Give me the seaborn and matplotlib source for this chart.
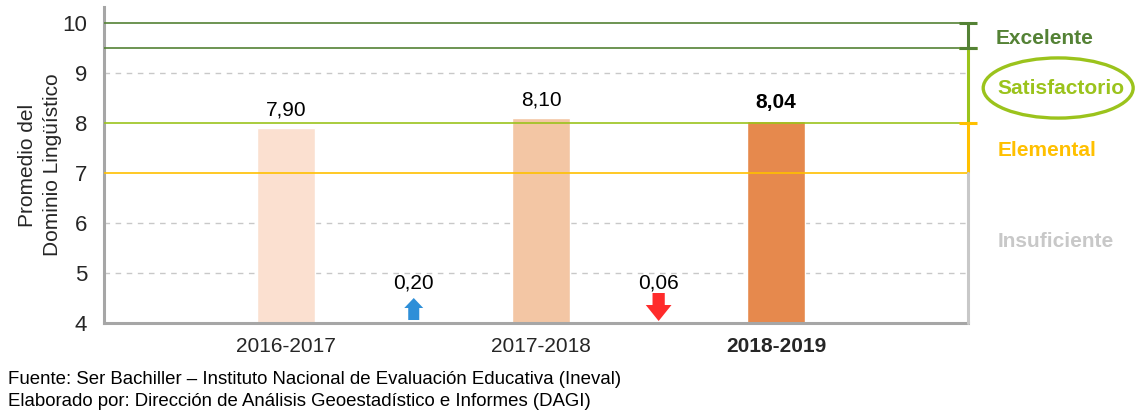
import matplotlib
matplotlib.use("Agg")
import matplotlib.pyplot as plt
import seaborn as sns
import pandas as pd
from matplotlib.patches import Ellipse, FancyArrow

sns.set_theme(style="white")
plt.rcParams['font.family'] = ['Liberation Sans', 'DejaVu Sans']

periods = ["2016-2017", "2017-2018", "2018-2019"]
values = [7.90, 8.10, 8.04]
value_labels = ["7,90", "8,10", "8,04"]
bar_colors = ["#FBE0D0", "#F3C6A4", "#E6894D"]
changes = ["0,20", "0,06"]
change_dirs = ["up", "down"]
levels = ["Excelente", "Satisfactorio", "Elemental", "Insuficiente"]
level_bounds = [10.0, 9.5, 8.0, 7.0, 4.0]
level_colors = ["#548235", "#9BC31C", "#FFC000", "#C8C8C8"]

# layout positions of the bars (arrows sit midway between them)
pos = [0, 2.08, 4]
df = pd.DataFrame({"x": pos, "y": values, "period": periods})

fig = plt.figure(figsize=(11.36, 4.12), dpi=100)
ax = fig.add_axes([0.0915, 0.216, 0.761, 0.767])

ax.set_ylim(4, 10.32)
ax.set_xlim(-1.49, 5.57)

# dashed grid
for g in [5, 6, 9]:
    ax.axhline(g, color="#C8C8C8", ls=(0, (4, 4)), lw=1, zorder=0)

ax.bar(df["x"], df["y"] - 4, bottom=4, width=0.475, color=bar_colors, zorder=2)

# level lines
ax.axhline(10.0, color=level_colors[0], lw=1.2, zorder=3)
ax.axhline(9.5, color=level_colors[0], lw=1.2, zorder=3)
ax.axhline(8.0, color=level_colors[1], lw=1.2, zorder=3)
ax.axhline(7.0, color=level_colors[2], lw=1.2, zorder=3)

# right side vertical segments
xr = 5.565
for i in range(4):
    top, bot = level_bounds[i], level_bounds[i + 1]
    ax.plot([xr, xr], [bot, top], color=level_colors[i], lw=2.2, clip_on=False, zorder=4)
    if i < 3:
        ax.plot([xr - 0.075, xr + 0.075], [top, top], color=level_colors[i], lw=2.2,
                clip_on=False, zorder=5, solid_capstyle="butt")
ax.plot([xr - 0.075, xr + 0.075], [9.5, 9.5], color=level_colors[0], lw=2.2,
        clip_on=False, zorder=5, solid_capstyle="butt")

# value labels
for i, (x, v, lab) in enumerate(zip(pos, values, value_labels)):
    ax.text(x, v + 0.37, lab, ha="center", va="center", fontsize=15,
            fontweight="bold" if i == 2 else "normal", color="black")

# change arrows
for j, (lab, d) in enumerate(zip(changes, change_dirs)):
    x = (pos[j] + pos[j + 1]) / 2
    ax.text(x, 4.8, lab, ha="center", va="center", fontsize=15, color="black")
    if d == "up":
        ax.add_patch(FancyArrow(x, 4.06, 0, 0.44, width=0.09, head_width=0.155,
                                head_length=0.2, length_includes_head=True,
                                color="#2E8FD8", lw=0, zorder=4))
    else:
        ax.add_patch(FancyArrow(x, 4.6, 0, -0.56, width=0.1, head_width=0.21,
                                head_length=0.32, length_includes_head=True,
                                color="#FF2B2B", lw=0, zorder=4))

# level text
fig.text(0.876, 1 - 38 / 412, levels[0], color=level_colors[0], fontsize=15,
         fontweight="bold", va="center")
fig.text(0.878, 1 - 88 / 412, levels[1], color=level_colors[1], fontsize=15,
         fontweight="bold", va="center")
fig.text(0.878, 1 - 150 / 412, levels[2], color=level_colors[2], fontsize=15,
         fontweight="bold", va="center")
fig.text(0.878, 1 - 242 / 412, levels[3], color=level_colors[3], fontsize=15,
         fontweight="bold", va="center")
ell = Ellipse((0.9315, 1 - 88 / 412), 0.132, 0.146, transform=fig.transFigure,
              fill=False, edgecolor=level_colors[1], lw=2.4, angle=0)
fig.patches.append(ell)

# axes styling
ax.set_xticks(pos)
ax.set_xticklabels(periods, fontsize=15)
ax.get_xticklabels()[2].set_fontweight("bold")
ax.set_yticks([4, 5, 6, 7, 8, 9, 10])
ax.set_yticklabels(["4", "5", "6", "7", "8", "9", "10"], fontsize=16)
ax.tick_params(axis="x", length=0, pad=10)
ax.tick_params(axis="y", length=0, pad=12)
ax.set_ylabel("Promedio del\nDominio Lingüístico", fontsize=15, labelpad=0,
              linespacing=1.4)
for s in ["top", "right"]:
    ax.spines[s].set_visible(False)
ax.spines["left"].set_color("#A6A6A6")
ax.spines["left"].set_linewidth(2.2)
ax.spines["bottom"].set_color("#A6A6A6")
ax.spines["bottom"].set_linewidth(2.2)

fig.text(0.007, 1 - 379 / 412, "Fuente: Ser Bachiller – Instituto Nacional de Evaluación Educativa (Ineval)",
         fontsize=13.4, color="black", va="center")
fig.text(0.007, 1 - 401 / 412, "Elaborado por: Dirección de Análisis Geoestadístico e Informes (DAGI)",
         fontsize=13.4, color="black", va="center")

fig.savefig("out.png", dpi=100)
